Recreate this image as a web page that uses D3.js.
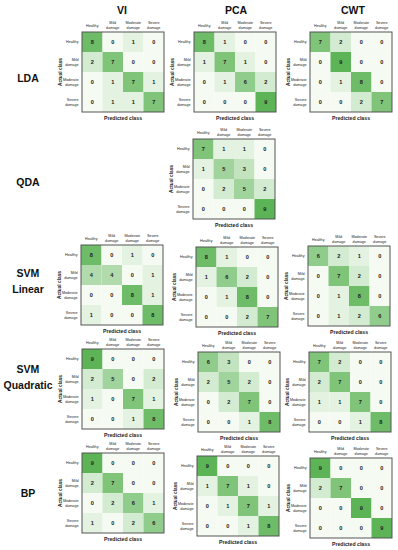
<!DOCTYPE html>
<html><head><meta charset="utf-8">
<script src="https://cdn.jsdelivr.net/npm/d3@7"></script>
<style>html,body{margin:0;padding:0;background:#fff;}svg{display:block;font-family:"Liberation Sans",Arial,sans-serif;}</style>
</head><body>
<svg id="c" width="398" height="550"></svg>
<script>
const featureSets = ["VI", "PCA", "CWT"];
const classifiers = ["LDA", "QDA", "SVM Linear", "SVM Quadratic", "BP"];
const classes = ["Healthy", "Mild damage", "Moderate damage", "Severe damage"];

const LDA_VI  = [[8,0,1,0],[2,7,0,0],[0,1,7,1],[0,1,1,7]];
const LDA_PCA = [[8,1,0,0],[1,7,1,0],[0,1,6,2],[0,0,0,9]];
const LDA_CWT = [[7,2,0,0],[0,9,0,0],[0,1,8,0],[0,0,2,7]];
const QDA_PCA = [[7,1,1,0],[1,5,3,0],[0,2,5,2],[0,0,0,9]];
const SVML_VI  = [[8,0,1,0],[4,4,0,1],[0,0,8,1],[1,0,0,8]];
const SVML_PCA = [[8,1,0,0],[1,6,2,0],[0,1,8,0],[0,0,2,7]];
const SVML_CWT = [[6,2,1,0],[0,7,2,0],[0,1,8,0],[0,1,2,6]];
const SVMQ_VI  = [[9,0,0,0],[2,5,0,2],[1,0,7,1],[0,0,1,8]];
const SVMQ_PCA = [[6,3,0,0],[2,5,2,0],[0,2,7,0],[0,0,1,8]];
const SVMQ_CWT = [[7,2,0,0],[2,7,0,0],[1,1,7,0],[0,0,1,8]];
const BP_VI  = [[9,0,0,0],[2,7,0,0],[0,2,6,1],[1,0,2,6]];
const BP_PCA = [[9,0,0,0],[1,7,1,0],[0,1,7,1],[0,0,1,8]];
const BP_CWT = [[9,0,0,0],[2,7,0,0],[0,0,9,0],[0,0,0,9]];

// panel layout (plot-area top-left corner)
const panels = [
  {m: LDA_VI,  x: 82,  y: 32},
  {m: LDA_PCA, x: 194, y: 32},
  {m: LDA_CWT, x: 310, y: 32},
  {m: QDA_PCA, x: 193, y: 139},
  {m: SVML_VI,  x: 81,  y: 245},
  {m: SVML_PCA, x: 196, y: 247},
  {m: SVML_CWT, x: 308, y: 246},
  {m: SVMQ_VI,  x: 82,  y: 349},
  {m: SVMQ_PCA, x: 198, y: 352},
  {m: SVMQ_CWT, x: 309, y: 352},
  {m: BP_VI,  x: 82,  y: 453},
  {m: BP_PCA, x: 197, y: 456},
  {m: BP_CWT, x: 310, y: 458}
];
const titleX = [122, 236, 353];
const rowLabelY = [[78], [182], [273, 289], [369, 385], [493]];

const svg = d3.select("#c");
const W = 82, H = 80;
const color = d3.scaleLinear().domain([0, 9]).range(["#f5fbf2", "#5db457"]).interpolate(d3.interpolateRgb);

featureSets.forEach((f, i) => {
  svg.append("text").attr("x", titleX[i]).attr("y", 14).attr("text-anchor", "middle")
    .attr("font-size", 10.5).attr("font-weight", "bold").attr("fill", "#111").text(f);
});
const labelLines = [["LDA"], ["QDA"], ["SVM", "Linear"], ["SVM", "Quadratic"], ["BP"]];
labelLines.forEach((lines, i) => {
  lines.forEach((l, j) => {
    svg.append("text").attr("x", 28).attr("y", rowLabelY[i][j] + 4).attr("text-anchor", "middle")
      .attr("font-size", 10.5).attr("font-weight", "bold").attr("fill", "#111").text(l);
  });
});

const splitLab = s => s.includes(" ") ? s.split(" ") : [s];
const fs = 3.7;

panels.forEach(p => {
  const g = svg.append("g").attr("transform", `translate(${p.x},${p.y})`);
  const xs = d3.scaleBand().domain(classes).range([0, W]);
  const ys = d3.scaleBand().domain(classes).range([0, H]);
  const cells = [];
  p.m.forEach((row, r) => row.forEach((v, c) => cells.push({r: classes[r], c: classes[c], v})));
  g.selectAll("rect.cell").data(cells).enter().append("rect")
    .attr("x", d => xs(d.c)).attr("y", d => ys(d.r))
    .attr("width", xs.bandwidth()).attr("height", ys.bandwidth())
    .attr("fill", d => color(d.v));
  g.selectAll("text.val").data(cells).enter().append("text")
    .attr("x", d => xs(d.c) + xs.bandwidth() / 2).attr("y", d => ys(d.r) + ys.bandwidth() / 2 + 2)
    .attr("text-anchor", "middle").attr("font-size", 5.6).attr("font-weight", "bold")
    .attr("fill", "#222").text(d => d.v);
  g.append("rect").attr("x", 0).attr("y", 0).attr("width", W).attr("height", H)
    .attr("fill", "none").attr("stroke", "#555").attr("stroke-width", 1);
  // column headers
  classes.forEach(c => {
    const lines = splitLab(c);
    lines.forEach((l, j) => {
      g.append("text").attr("x", xs(c) + xs.bandwidth() / 2)
        .attr("y", lines.length === 1 ? -5.5 : -8 + j * 4.6)
        .attr("text-anchor", "middle").attr("font-size", fs).attr("fill", "#222").text(l);
    });
  });
  // row headers
  classes.forEach(c => {
    const lines = splitLab(c);
    lines.forEach((l, j) => {
      g.append("text").attr("x", -3.5)
        .attr("y", ys(c) + ys.bandwidth() / 2 + (lines.length === 1 ? 1.3 : -1 + j * 4.6))
        .attr("text-anchor", "end").attr("font-size", fs).attr("fill", "#222").text(l);
    });
  });
  g.append("text").attr("x", W / 2).attr("y", H + 8).attr("text-anchor", "middle")
    .attr("font-size", 5.2).attr("font-weight", "bold").attr("fill", "#222").text("Predicted class");
  g.append("text").attr("transform", `translate(-20,${H / 2}) rotate(-90)`).attr("text-anchor", "middle")
    .attr("font-size", 4.8).attr("font-weight", "bold").attr("fill", "#222").text("Actual class");
});
</script>
</body></html>
